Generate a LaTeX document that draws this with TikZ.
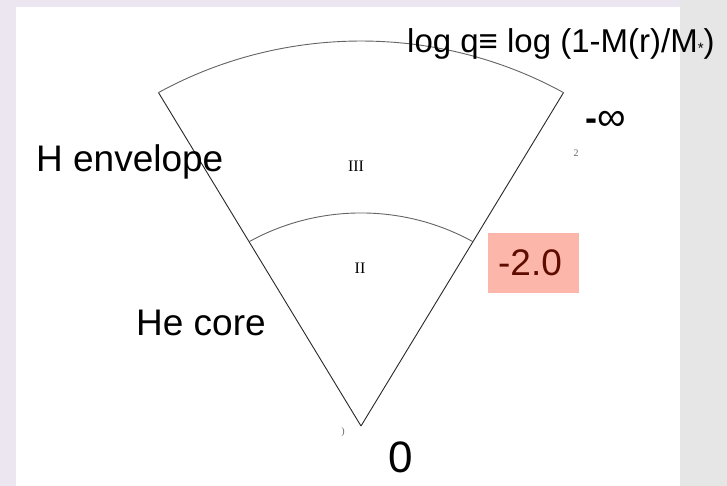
\documentclass[tikz,border=0pt]{standalone}
\usepackage{fontspec}
\setmainfont{Liberation Sans}
\newfontfamily\serifrm{Liberation Serif}
\definecolor{bgside}{RGB}{236,230,240}
\definecolor{bgright}{RGB}{230,230,230}
\definecolor{boxpink}{RGB}{252,182,170}
\definecolor{darkred}{RGB}{95,12,0}
\definecolor{edgecol}{RGB}{40,40,40}
\definecolor{arccol}{RGB}{100,100,100}
\newcommand{\fs}[1]{\fontsize{#1}{#1}\selectfont}
\begin{document}
\begin{tikzpicture}[x=1pt,y=-1pt,
  edge/.style={draw=edgecol,line width=0.9pt},
  shell/.style={draw=arccol,line width=0.9pt},
  bigtxt/.style={inner sep=0pt,font=\fs{37}},
  roman/.style={inner sep=0pt,font=\serifrm\fs{16}},
  artifact/.style={inner sep=0pt,text=black!60,font=\serifrm\fs{10}}]
\useasboundingbox (0,0) rectangle (727,486);
% background
\fill[bgside] (0,0) rectangle (727,486);
\fill[white] (16,7) rectangle (680,486);
\fill[bgright] (680,0) rectangle (727,486);
% wedge geometry
\coordinate (O) at (361,426);
\coordinate (L1) at (158.5,92.6);
\coordinate (R1) at (563.5,92.6);
\coordinate (L2) at (249.5,241.5);
\coordinate (R2) at (472.5,241.5);
\path[shell] (L1) arc[start angle=-120,end angle=-60,x radius=405,y radius=385];
\path[shell] (L2) arc[start angle=-120,end angle=-60,x radius=223,y radius=213];
\path[edge] (O) -- (L1);
\path[edge] (O) -- (R1);
% labels
\node[roman] (III) at (356,166) {III};
\node[roman] (II) at (360,268) {II};
\node[bigtxt,anchor=base west] (Henv) at (36,172) {H envelope};
\node[bigtxt,anchor=base west] (Hecore) at (136,335) {He core};
\node[inner sep=0pt,anchor=base west,font=\fs{33}] (logq) at (407,53) {log q≡ log (1-M(r)/M{\fs{15}\raisebox{-0.05em}{*}})};
\node[inner sep=0pt,anchor=base west] (minf) at (585,131) {{\fs{36}\textbf{-}}{\fs{40}∞}};
\node[fill=boxpink,minimum width=91,minimum height=60,inner sep=0pt] (m2box) at (533.5,263) {};
\node[bigtxt,text=darkred] (m2) at (530,263) {-2.0};
\node[inner sep=0pt,font=\fs{44}] (zero) at (401,457) {0};
\node[artifact] (a1) at (576,153) {2};
\node[artifact] (a2) at (343,432) {)};
\end{tikzpicture}
\end{document}
